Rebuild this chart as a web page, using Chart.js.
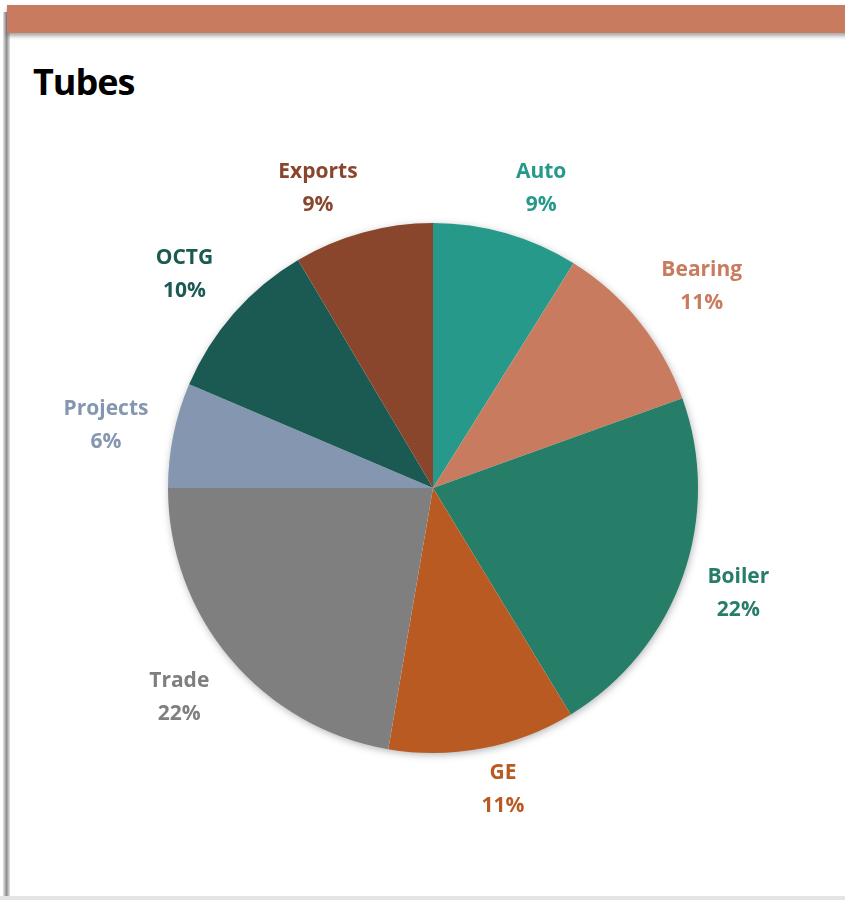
<!DOCTYPE html>
<html>
<head>
<meta charset="utf-8">
<script src="https://cdn.jsdelivr.net/npm/chart.js@4.4.1/dist/chart.umd.min.js"></script>
<style>
  body { margin: 0; background: #ffffff; }
  #wrap { position: relative; width: 845px; height: 900px; overflow: hidden; }
  #leftShadow { position: absolute; left: 3px; top: 12px; width: 6px; height: 888px;
    background: linear-gradient(to right, #e6e6e6, #8c8c8c 60%, #d0d0d0); }
  #panel { position: absolute; left: 9px; top: 33px; width: 840px; height: 863px;
    background: #fff; border-left: 1px solid #d8d8d8; border-bottom: 1px solid #d0d0d0; }
  #bottomLine { position: absolute; left: 0; top: 896px; width: 845px; height: 4px; background: #e4e4e4; }
  #bar { position: absolute; left: 7px; top: 5px; width: 845px; height: 28px; background: #c97b5f;
    box-shadow: 0 3px 4px rgba(0,0,0,0.35); }
  #title { position: absolute; left: 33px; top: 57px; font: bold 36px "Open Sans", sans-serif;
    letter-spacing: -1px; color: #000; }
  #grafico { position: absolute; left: 0; top: 0; }
</style>
</head>
<body>
<div id="wrap">
  <div id="leftShadow"></div>
  <div id="panel"></div>
  <div id="bottomLine"></div>
  <div id="bar"></div>
  <div id="title">Tubes</div>
  <canvas id="grafico" width="845" height="900"></canvas>
</div>
<script>
const categorie = ["Auto", "Bearing", "Boiler", "GE", "Trade", "Projects", "OCTG", "Exports"];
const valori = [8.9, 10.6, 21.8, 11.4, 22.3, 6.4, 10.1, 8.5];
const colori = ["#26998a", "#c97b5f", "#267d68", "#b95a22", "#7f7f7f", "#8596b0", "#1a5a52", "#89462c"];

// posizione delle etichette: scarto angolare (gradi) e distanza dal centro (px)
const scartoAngolo = [3.8, 2.0, -0.4, -2.3, 0.6, -0.6, -0.5, -5.7];
const distanzaEtichetta = [319, 336, 323, 309, 329, 333, 328, 321];

// ombra sotto la torta
const ombraTorta = {
    id: "ombraTorta",
    beforeDatasetsDraw(chart) {
        const arco = chart.getDatasetMeta(0).data[0];
        if (!arco) return;
        const ctx = chart.ctx;
        ctx.save();
        ctx.shadowColor = "rgba(0,0,0,0.35)";
        ctx.shadowBlur = 8;
        ctx.shadowOffsetX = 1;
        ctx.shadowOffsetY = 2;
        ctx.fillStyle = "#ffffff";
        ctx.beginPath();
        ctx.arc(arco.x, arco.y, arco.outerRadius - 1, 0, Math.PI * 2);
        ctx.fill();
        ctx.restore();
    }
};

// etichette esterne: nome + percentuale
const etichette = {
    id: "etichette",
    afterDatasetsDraw(chart) {
        const ctx = chart.ctx;
        const meta = chart.getDatasetMeta(0);
        const totale = valori.reduce((a, b) => a + b, 0);
        ctx.save();
        ctx.font = "bold 21px 'Open Sans', sans-serif";
        ctx.textAlign = "center";
        ctx.textBaseline = "middle";
        meta.data.forEach((arco, i) => {
            const medio = (arco.startAngle + arco.endAngle) / 2 + scartoAngolo[i] * Math.PI / 180;
            const dist = distanzaEtichetta[i] * arco.outerRadius / 265;
            const x = arco.x + Math.cos(medio) * dist;
            const y = arco.y + Math.sin(medio) * dist;
            ctx.fillStyle = colori[i];
            ctx.fillText(categorie[i], x, y - 16);
            ctx.fillText(Math.round(valori[i] / totale * 100) + "%", x, y + 17);
        });
        ctx.restore();
    }
};

const ctx = document.getElementById("grafico").getContext("2d");
new Chart(ctx, {
    type: "pie",
    data: {
        labels: categorie,
        datasets: [{
            data: valori,
            backgroundColor: colori,
            borderWidth: 0
        }]
    },
    options: {
        responsive: false,
        animation: false,
        layout: {
            padding: { left: 168, right: 147, top: 223, bottom: 147 }
        },
        plugins: {
            legend: { display: false },
            title: { display: false },
            tooltip: { enabled: false }
        }
    },
    plugins: [ombraTorta, etichette]
});
</script>
</body>
</html>
